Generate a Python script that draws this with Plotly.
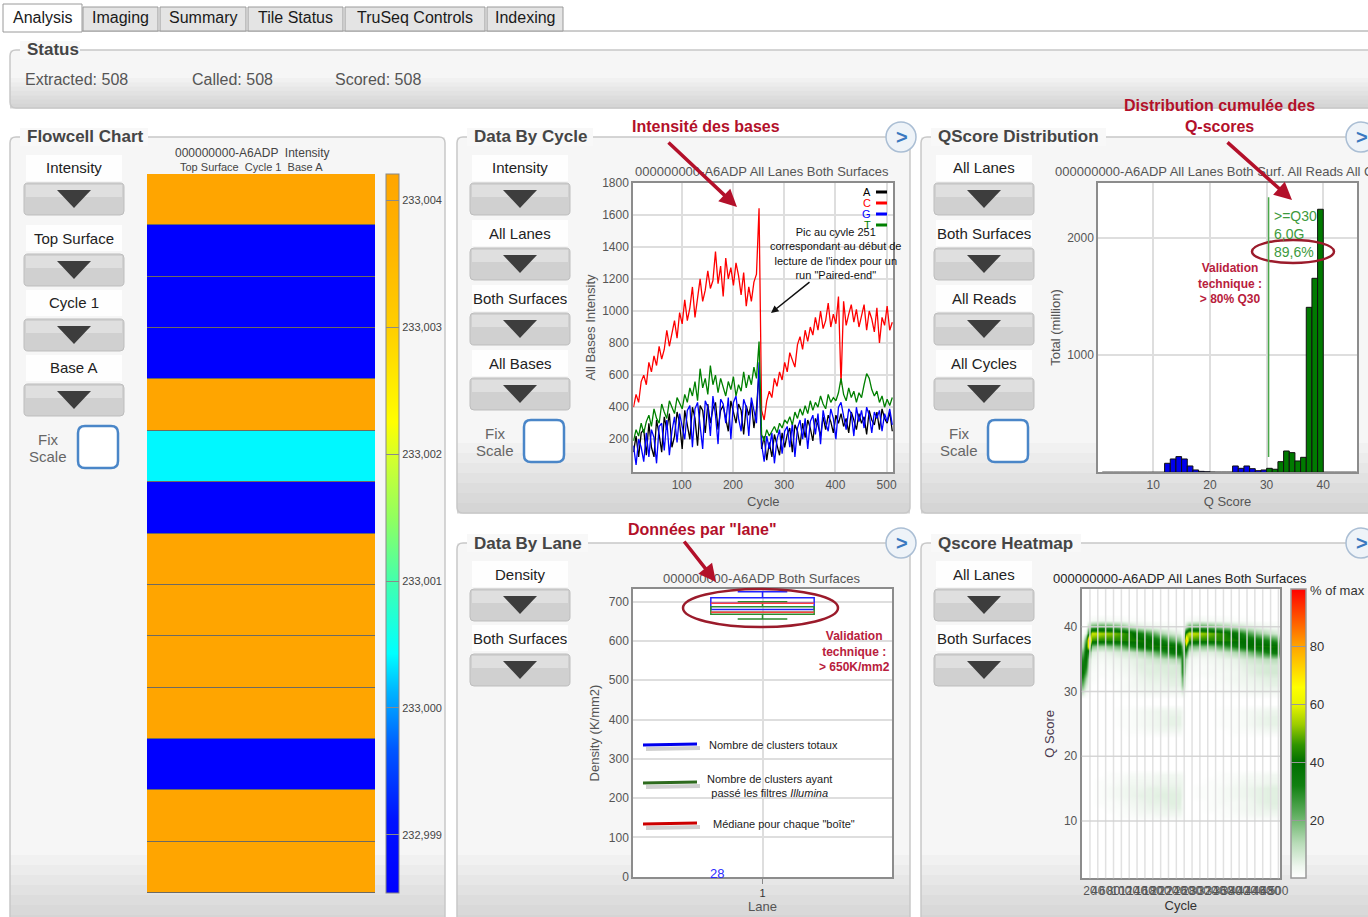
# -*- coding: utf-8 -*-
import plotly.graph_objects as go

W, H = 1368, 917
FONT = "Liberation Sans, Arial, sans-serif"

# ---------------- Données ----------------
# Flowcell chart : intensité par tuile (Top Surface, Cycle 1, Base A), de haut en bas
tile_intensity = [233.0042, 232.9985, 232.9985, 232.9985, 233.0042, 233.0004, 232.9985,
                  233.0042, 233.0042, 233.0042, 233.0042, 232.9985, 233.0042, 233.0042]
flowcell_ticks = [232.999, 233.000, 233.001, 233.002, 233.003, 233.004]
flowcell_ticktext = ["232,999", "233,000", "233,001", "233,002", "233,003", "233,004"]

# Data by cycle : intensité par base (lu toutes les 5 cycles)
cycles = list(range(6, 512, 5))
intensity_A = [120, 220, 90, 240, 260, 100, 300, 150, 90, 320, 230, 120, 340, 260, 360, 150, 220, 370, 300, 140,
               380, 280, 200, 400, 330, 160, 410, 380, 240, 420, 300, 390, 430, 260, 380, 410, 330, 250, 440, 360,
               300, 420, 380, 230, 410, 350, 430, 270, 390, 620,
               140, 220, 70, 180, 90, 230, 170, 100, 240, 150,
               230, 270, 120, 290, 250, 160, 300, 210, 320, 270, 190, 330, 290, 220, 340, 260, 350, 310, 240, 350,
               300, 360, 280, 330, 240, 370, 320, 260, 360, 300, 340, 230, 380, 320, 290, 370, 260, 390, 330, 300,
               370, 250]
intensity_C = [400, 480, 430, 560, 600, 540, 680, 620, 720, 660, 780, 700, 760, 880, 780, 850, 940, 830, 990, 920,
               1070, 940, 1020, 1150, 960, 1080, 1200, 1060, 1130, 1250, 1140, 1190, 1370, 1170, 1280, 1090, 1330, 1200, 1270, 1160,
               1300, 1220, 1100, 1240, 1030, 1150, 1060, 1180, 1230, 1640,
               380, 320, 440, 500, 460, 580, 530, 620, 570, 680,
               620, 740, 700, 650, 790, 840, 760, 880, 810, 900, 850, 960, 880, 1000, 890, 940, 1050, 900, 980, 920,
               1090, 540, 1060, 910, 980, 1040, 930, 1010, 900, 970, 1040, 880, 1000, 950, 870, 1020, 800, 960, 910, 1030,
               880, 930]
intensity_G = [160, 40, 200, 150, 60, 240, 90, 260, 210, 50, 280, 300, 130, 320, 100, 250, 340, 180, 360, 290,
               200, 380, 410, 150, 390, 430, 280, 140, 440, 400, 220, 470, 350, 170, 450, 420, 300, 460, 200, 430,
               470, 330, 250, 450, 400, 220, 460, 380, 300, 680,
               170, 60, 220, 140, 240, 50, 200, 260, 110, 250,
               280, 150, 300, 90, 270, 320, 200, 330, 140, 310, 350, 230, 360, 170, 380, 300, 250, 390, 330, 200,
               400, 430, 340, 260, 390, 360, 220, 400, 310, 380, 270, 400, 350, 240, 370, 330, 380, 250, 360, 310,
               390, 290]
intensity_T = [190, 260, 220, 300, 240, 310, 350, 280, 390, 330, 300, 420, 370, 330, 440, 400, 360, 460, 420, 390,
               480, 430, 520, 470, 560, 440, 640, 520, 580, 480, 660, 540, 600, 490, 580, 530, 470, 560, 510, 590,
               470, 540, 500, 620, 520, 600, 540, 650, 580, 810,
               230, 190, 260, 220, 250, 280, 240, 300, 270, 320,
               300, 340, 290, 370, 330, 390, 350, 410, 360, 440, 380, 430, 400, 470, 420, 390, 480, 430, 460, 440,
               490, 580, 480, 440, 520, 460, 500, 430, 490, 460, 540, 610, 580, 510, 470, 500, 430, 470, 400, 450,
               410, 460]
bases = ["A", "C", "G", "T"]
base_colors = ["#000000", "#ff0000", "#0000ff", "#008000"]

# QScore distribution (millions)
qscore_bins = list(range(1, 46))
qscore_totals = [0, 0, 0, 0, 0, 0, 0, 0, 0, 0, 0,
                 77, 114, 134, 114, 54, 20, 8, 5,
                 2, 1, 1, 1,
                 54, 34, 54, 31, 14, 20,
                 34, 26, 91, 182, 168, 97, 128, 1410, 1658, 2248,
                 0, 0, 0, 0, 0, 0]
q30_threshold = 30

# Data by lane : densité (K/mm2) -> [moustache basse, q1, médiane, q3, moustache haute]
lanes = [1]
density_total = [680, 680, 696, 710, 725]
density_pf = [656, 668, 673, 687, 700]

# Qscore heatmap (% du max)
heat_cycles = [2, 10, 17, 25, 50, 75, 100, 125, 150, 175, 200, 225, 248, 256, 264, 272, 300, 330, 360, 390, 420, 450, 480, 510]
heat_q = [41, 40, 39, 38, 37, 36, 35, 34, 33, 32, 31, 30, 27, 26, 25, 24, 17, 16, 15, 14, 13, 12, 11]
heat_z = [
    [0, 0, 1, 2, 3, 2, 2, 1, 1, 0, 0, 0, 0, 0, 1, 2, 3, 2, 2, 1, 1, 0, 0, 0],
    [0, 0, 15, 24, 28, 26, 20, 12, 7, 5, 3, 2, 1, 0, 12, 24, 26, 22, 16, 12, 8, 5, 3, 2],
    [0, 5, 35, 58, 54, 52, 48, 42, 32, 24, 14, 9, 6, 0, 45, 58, 54, 50, 44, 36, 26, 16, 10, 6],
    [5, 25, 90, 46, 44, 44, 44, 43, 42, 40, 34, 24, 18, 5, 80, 46, 44, 44, 44, 42, 40, 36, 30, 22],
    [10, 35, 70, 18, 14, 18, 22, 30, 38, 42, 42, 42, 40, 15, 50, 20, 18, 18, 26, 32, 40, 42, 42, 40],
    [20, 40, 30, 6, 4, 6, 8, 9, 13, 18, 26, 34, 40, 25, 30, 8, 6, 6, 9, 13, 18, 26, 34, 38],
    [30, 40, 12, 3, 2, 3, 4, 5, 6, 8, 10, 12, 15, 35, 12, 3, 2, 3, 4, 5, 8, 10, 12, 12],
    [35, 35, 8, 2, 1, 2, 3, 4, 6, 6, 7, 7, 8, 38, 8, 2, 1, 2, 3, 4, 6, 7, 8, 8],
    [38, 25, 5, 1, 1, 1, 2, 3, 5, 6, 6, 7, 7, 35, 5, 1, 1, 2, 2, 3, 5, 7, 8, 8],
    [30, 15, 3, 1, 0, 1, 1, 2, 4, 5, 5, 6, 6, 25, 3, 1, 0, 1, 2, 3, 4, 5, 6, 6],
    [20, 8, 2, 0, 0, 0, 1, 2, 3, 4, 4, 5, 5, 18, 2, 0, 0, 1, 1, 2, 3, 4, 5, 5],
    [10, 3, 1, 0, 0, 0, 1, 1, 2, 3, 3, 3, 3, 8, 1, 0, 0, 0, 1, 1, 2, 3, 3, 3],
    [0, 0, 0, 0, 0, 0, 1, 1, 2, 3, 4, 4, 4, 2, 0, 0, 0, 0, 1, 1, 2, 3, 4, 4],
    [0, 0, 0, 0, 0, 0, 1, 1, 2, 3, 4, 5, 5, 2, 0, 0, 0, 0, 1, 1, 2, 4, 5, 5],
    [0, 0, 0, 0, 0, 0, 1, 1, 2, 3, 4, 5, 5, 2, 0, 0, 0, 0, 1, 1, 2, 4, 5, 5],
    [0, 0, 0, 0, 0, 0, 0, 1, 1, 2, 3, 3, 3, 1, 0, 0, 0, 0, 0, 1, 1, 2, 3, 3],
    [0, 0, 0, 0, 0, 1, 1, 2, 2, 2, 3, 3, 3, 2, 0, 0, 0, 0, 1, 1, 2, 2, 3, 3],
    [0, 0, 0, 0, 1, 1, 2, 3, 3, 3, 4, 4, 4, 3, 0, 0, 0, 1, 1, 2, 3, 3, 4, 4],
    [0, 0, 0, 0, 1, 2, 3, 4, 4, 5, 5, 5, 5, 3, 0, 0, 1, 1, 2, 3, 4, 5, 6, 6],
    [0, 0, 0, 0, 1, 2, 3, 4, 5, 5, 6, 6, 6, 3, 0, 0, 1, 1, 2, 3, 4, 5, 6, 6],
    [0, 0, 0, 0, 1, 1, 2, 3, 4, 5, 5, 6, 6, 2, 0, 0, 0, 1, 2, 2, 3, 5, 6, 6],
    [0, 0, 0, 0, 0, 1, 1, 2, 3, 4, 4, 5, 5, 2, 0, 0, 0, 1, 1, 2, 3, 4, 5, 5],
    [0, 0, 0, 0, 0, 0, 1, 1, 2, 2, 3, 3, 3, 1, 0, 0, 0, 0, 1, 1, 2, 3, 3, 3],
]
heat_cycle_ticks = [20, 40, 60, 80, 100, 120, 140, 160, 180, 200, 220, 240, 260, 280, 300,
                    320, 340, 360, 380, 400, 420, 440, 460, 480, 500]

# ---------------- Helpers (pixels -> paper) ----------------
shapes, annotations = [], []


def X(x):
    return x / W


def Y(y):
    return 1 - y / H


def rect(x0, y0, x1, y1, fill, line=None, width=1, layer="below"):
    shapes.append(dict(type="rect", xref="paper", yref="paper", x0=X(x0), y0=Y(y1), x1=X(x1), y1=Y(y0),
                       fillcolor=fill, layer=layer,
                       line=dict(color=line or "rgba(0,0,0,0)", width=width if line else 0)))


def rrect(x0, y0, x1, y1, r, fill, line=None, width=1, layer="below"):
    def p(x, y):
        return f"{X(x):.5f},{Y(y):.5f}"
    path = (f"M{p(x0 + r, y0)} L{p(x1 - r, y0)} Q{p(x1, y0)} {p(x1, y0 + r)} L{p(x1, y1 - r)} "
            f"Q{p(x1, y1)} {p(x1 - r, y1)} L{p(x0 + r, y1)} Q{p(x0, y1)} {p(x0, y1 - r)} "
            f"L{p(x0, y0 + r)} Q{p(x0, y0)} {p(x0 + r, y0)} Z")
    shapes.append(dict(type="path", xref="paper", yref="paper", path=path, fillcolor=fill, layer=layer,
                       line=dict(color=line or "rgba(0,0,0,0)", width=width if line else 0)))


def seg(x0, y0, x1, y1, color, width=1, layer="above"):
    shapes.append(dict(type="line", xref="paper", yref="paper", x0=X(x0), y0=Y(y0), x1=X(x1), y1=Y(y1),
                       line=dict(color=color, width=width), layer=layer))


def ellipse(x0, y0, x1, y1, color, width=2):
    shapes.append(dict(type="circle", xref="paper", yref="paper", x0=X(x0), y0=Y(y1), x1=X(x1), y1=Y(y0),
                       line=dict(color=color, width=width), fillcolor="rgba(0,0,0,0)", layer="above"))


def text(x, y, s, size=14, color="#333", bold=False, xanchor="center", yanchor="middle", align="center"):
    if bold:
        s = f"<b>{s}</b>"
    annotations.append(dict(x=X(x), y=Y(y), xref="paper", yref="paper", text=s, showarrow=False,
                            xanchor=xanchor, yanchor=yanchor, align=align,
                            font=dict(size=size, color=color, family=FONT)))


def arrow(xt, yt, xh, yh, color, width=3):
    annotations.append(dict(x=X(xh), y=Y(yh), xref="paper", yref="paper", ax=xt - xh, ay=yt - yh,
                            axref="pixel", ayref="pixel", text="", showarrow=True, arrowhead=2,
                            arrowsize=1, arrowwidth=width, arrowcolor=color))


def panel(x0, y0, x1, y1, title, title_w, band=70):
    steps = ["#f1f1f1", "#ececec", "#e7e7e7", "#e2e2e2", "#dddddd", "#d9d9d9", "#d5d5d5"]
    rect(x0, y0, x1, y1 - band, "#f6f6f6")
    bh = band / len(steps)
    for i, c in enumerate(steps):
        rect(x0, y1 - band + i * bh, x1, y1 - band + (i + 1) * bh + 0.5, c)
    rrect(x0, y0, x1, y1, 6, "rgba(0,0,0,0)", "#c8c8c8", 1.5)
    rect(x0 + 10, y0 - 9, x0 + 18 + title_w, y0 + 9, "#f8f8f8")
    text(x0 + 15, y0, title, size=17, color="#454545", bold=True, xanchor="left")


def dropdown(cx, label, label_y, top):
    rect(cx - 48, label_y - 13, cx + 48, label_y + 13, "rgba(255,255,255,0.85)")
    text(cx, label_y, label, size=15, color="#222")
    rrect(cx - 50, top, cx + 50, top + 32, 4, "#d0d0d0", "#bdbdbd", 1)
    rect(cx - 48, top + 2, cx + 48, top + 14, "#dfdfdf")
    p = lambda x, y: f"{X(x):.5f},{Y(y):.5f}"
    shapes.append(dict(type="path", xref="paper", yref="paper", layer="below", fillcolor="#3d3d3d",
                       line=dict(width=0), path=f"M{p(cx - 17, top + 7)} L{p(cx + 17, top + 7)} L{p(cx, top + 25)} Z"))


def fix_scale(tx, bx0, by0):
    text(tx, by0 + 13, "Fix", size=15, color="#666")
    text(tx, by0 + 30, "Scale", size=15, color="#666")
    rrect(bx0, by0, bx0 + 40, by0 + 42, 7, "#ffffff", "#4a86c8", 2.5)


def next_button(cx, cy):
    shapes.append(dict(type="circle", xref="paper", yref="paper", x0=X(cx - 15), x1=X(cx + 15),
                       y0=Y(cy + 15), y1=Y(cy - 15), fillcolor="#eef3f8", line=dict(color="#aabed4", width=1.5),
                       layer="below"))
    text(cx + 1, cy, "&gt;", size=20, color="#3a78c0", bold=True)


# ---------------- Interface (onglets, panneaux) ----------------
tabs = [("Analysis", 3, 82), ("Imaging", 83, 158), ("Summary", 160, 246), ("Tile Status", 248, 343),
        ("TruSeq Controls", 345, 485), ("Indexing", 487, 563)]
seg(82, 31, 1368, 31, "#9a9a9a", 1, layer="below")
for i, (name, a, b) in enumerate(tabs):
    if i == 0:
        rect(a, 4, b, 32, "#ffffff", "#9a9a9a", 1)
    else:
        rect(a, 7, b, 31, "#e4e4e4", "#9a9a9a", 1)
    text((a + b) / 2, 18, name, size=16, color="#1a1a1a")

panel(10, 50, 1385, 108, "Status", 52, band=30)
text(23, 80, "Extracted: 508", size=16, color="#555", xanchor="left")
text(190, 80, "Called: 508", size=16, color="#555", xanchor="left")
text(333, 80, "Scored: 508", size=16, color="#555", xanchor="left")

panel(10, 137, 445, 925, "Flowcell Chart", 120)
panel(457, 137, 910, 513, "Data By Cycle", 118)
panel(921, 137, 1385, 513, "QScore Distribution", 167)
panel(457, 543, 910, 925, "Data By Lane", 113)
panel(921, 543, 1385, 925, "Qscore Heatmap", 142)
for cx, cy in [(901, 137), (1361, 137), (901, 543), (1361, 543)]:
    next_button(cx, cy)

for lab, ly, top in [("Intensity", 168, 183), ("Top Surface", 238, 254), ("Cycle 1", 303, 319), ("Base A", 368, 384)]:
    dropdown(74, lab, ly, top)
fix_scale(48, 78, 426)
for lab, ly, top in [("Intensity", 168, 183), ("All Lanes", 233, 248), ("Both Surfaces", 298, 313), ("All Bases", 363, 378)]:
    dropdown(520, lab, ly, top)
fix_scale(495, 524, 420)
for lab, ly, top in [("All Lanes", 168, 183), ("Both Surfaces", 233, 248), ("All Reads", 298, 313), ("All Cycles", 363, 378)]:
    dropdown(984, lab, ly, top)
fix_scale(959, 988, 420)
for lab, ly, top in [("Density", 574, 589), ("Both Surfaces", 638, 654)]:
    dropdown(520, lab, ly, top)
for lab, ly, top in [("All Lanes", 574, 589), ("Both Surfaces", 638, 654)]:
    dropdown(984, lab, ly, top)

# fonds des zones de tracé
rect(147, 174, 375, 893, "#6e6a62")
rect(633, 183, 893, 472, "#ffffff")
rect(1098, 183, 1357, 472, "#ffffff")
rect(633, 589, 892, 877, "#ffffff")
rect(1082, 589, 1280, 878, "#ffffff")

# titres des graphiques
text(252, 153, "000000000-A6ADP  Intensity", size=12, color="#444")
text(251, 167, "Top Surface  Cycle 1  Base A", size=11, color="#444")
text(762, 171, "000000000-A6ADP All Lanes Both Surfaces", size=13, color="#555")
text(1053, 171, "000000000-A6ADP All Lanes Both Surf. All Reads All Cycles", size=13, color="#555", xanchor="left")
text(762, 578, "000000000-A6ADP Both Surfaces", size=13, color="#555")
text(1180, 578, "000000000-A6ADP All Lanes Both Surfaces", size=13, color="#222")
text(1308, 590, "% of max", size=13, color="#333", xanchor="left")

# légende Data By Cycle
for i, (b, c) in enumerate(zip(bases, base_colors)):
    yy = 192 + i * 11
    text(873, yy, b, size=11, color=c, xanchor="right")
    seg(876, yy, 887, yy, c, 3)

# annotations en rouge (commentaires)
RED = "#b3102a"
text(706, 126, "Intensité des bases", size=16, color=RED, bold=True)
arrow(667, 141, 737, 207, RED, 3.5)
text(1219, 116, "Distribution cumulée des<br>Q-scores", size=16, color=RED, bold=True)
arrow(1226, 141, 1292, 200, RED, 3.5)
text(702, 529, "Données par \"lane\"", size=16, color=RED, bold=True)
arrow(683, 540, 716, 582, RED, 3.5)
text(1230, 283, "Validation<br>technique :<br>&gt; 80% Q30", size=12, color="#b8203c", bold=True)
text(854, 651, "Validation<br>technique :<br>&gt; 650K/mm2", size=12, color="#b8203c", bold=True)
ellipse(1252, 240, 1334, 263, "#9b1b2b", 2.5)
ellipse(683, 589, 838, 627, "#9b1b2b", 2.5)

# pic cycle 251
text(836, 253, "Pic au cyvle 251<br>correspondant au début de<br>lecture de l'index pour un<br>run \"Paired-end\"",
     size=11, color="#111")
arrow(811, 281, 771, 313, "#111", 1.5)

# >=Q30
text(1272, 234, ">=Q30<br>6,0G<br>89,6%", size=14, color="#3d9a3d", xanchor="left", align="left")

# légende Data By Lane
for yy, col, lab, lx in [(745, "#0000ee", "Nombre de clusters totaux", 707),
                         (783, "#2e6b1e", "Nombre de clusters ayant<br>passé les filtres <i>Illumina</i>", 705),
                         (824, "#cc0000", "Médiane pour chaque \"boîte\"", 711)]:
    seg(646, yy + 4, 700, yy + 3, "rgba(120,120,120,0.35)", 4)
    seg(643, yy, 697, yy - 1, col, 3)
    text(lx, yy + (3 if "<br>" in lab else 0), lab, size=11, color="#222", xanchor="left", align="center")
text(717, 873, "28", size=13, color="#2a2aff")

# ---------------- Figure ----------------
fig = go.Figure()

flow_cs = [[0.0, "#0000ff"], [0.1, "#0012ff"], [0.2, "#0058ff"], [0.28, "#00b4ff"], [0.333, "#00ffff"],
           [0.43, "#40ffb0"], [0.52, "#90ff60"], [0.6, "#d0ff30"], [0.655, "#ffff00"], [0.78, "#ffd000"],
           [0.9, "#ffb400"], [1.0, "#ffa500"]]
fig.add_trace(go.Heatmap(
    z=[[v] for v in tile_intensity], x=[0], y=list(range(len(tile_intensity))),
    colorscale=flow_cs, zmin=232.99854, zmax=233.00421, ygap=1, xaxis="x", yaxis="y",
    colorbar=dict(x=X(386), xanchor="left", y=Y(174), yanchor="top", len=719, lenmode="pixels",
                  thickness=13, xpad=0, ypad=0, outlinecolor="#888", outlinewidth=1,
                  tickvals=flowcell_ticks, ticktext=flowcell_ticktext, ticks="inside", ticklen=13,
                  tickcolor="#8a8a8a", tickfont=dict(size=11, color="#444", family=FONT))))

for b, c, vals in zip(bases, base_colors, [intensity_A, intensity_C, intensity_G, intensity_T]):
    fig.add_trace(go.Scatter(x=cycles, y=vals, mode="lines", name=b, line=dict(color=c, width=1.3),
                             xaxis="x2", yaxis="y2"))

fig.add_trace(go.Bar(
    x=qscore_bins, y=qscore_totals, offset=0, width=1, xaxis="x3", yaxis="y3",
    marker=dict(color=["#0000ee" if q < q30_threshold else "#007a00" for q in qscore_bins],
                line=dict(color="#111", width=1))))
shapes.append(dict(type="line", xref="x3", yref="y3", x0=q30_threshold + 0.35, x1=q30_threshold + 0.35,
                   y0=130, y1=2350, line=dict(color="#4aa84a", width=1.5), layer="above"))

for vals, col in [(density_total, "#2222ff"), (density_pf, "#2e8b2e")]:
    fig.add_trace(go.Box(x=lanes, lowerfence=[vals[0]], q1=[vals[1]], median=[vals[2]], q3=[vals[3]],
                         upperfence=[vals[4]], width=0.8, whiskerwidth=0.48, boxpoints=False,
                         line=dict(color=col, width=1.5), fillcolor="rgba(0,0,0,0)", xaxis="x4", yaxis="y4"))
for vals in [density_total, density_pf]:
    fig.add_trace(go.Scatter(x=[lanes[0] - 0.4, lanes[0] + 0.4], y=[vals[2], vals[2]], mode="lines",
                             line=dict(color="#ff4040", width=1.5), xaxis="x4", yaxis="y4"))

q_axis = list(range(1, 46))
z_full = [[0] * len(heat_cycles) for _ in q_axis]
for q, row in zip(heat_q, heat_z):
    z_full[q - 1] = row
qs_cs = [[0.0, "#ffffff"], [0.04, "#eef6ee"], [0.12, "#b8dcb8"], [0.22, "#5fae5f"], [0.32, "#118011"],
         [0.4, "#006e00"], [0.46, "#2f9400"], [0.53, "#9ccc00"], [0.6, "#e8f400"], [0.66, "#ffff00"],
         [0.8, "#ffa500"], [1.0, "#ff0000"]]
fig.add_trace(go.Heatmap(
    x=heat_cycles, y=q_axis, z=z_full, colorscale=qs_cs, zmin=0, zmax=100, zsmooth="best",
    xaxis="x5", yaxis="y5",
    colorbar=dict(x=X(1291), xanchor="left", y=Y(589), yanchor="top", len=289, lenmode="pixels",
                  thickness=15, xpad=0, ypad=0, outlinecolor="#999", outlinewidth=1.5,
                  tickvals=[20, 40, 60, 80], ticks="inside", ticklen=15, tickcolor="#999",
                  tickfont=dict(size=13, color="#333", family=FONT))))
for t in heat_cycle_ticks:
    shapes.append(dict(type="line", xref="x5", yref="y5 domain", x0=t, x1=t, y0=0, y1=1,
                       line=dict(color="rgba(222,222,222,0.9)", width=1.5), layer="above"))
for t in [10, 20, 30, 40]:
    shapes.append(dict(type="line", xref="x5 domain", yref="y5", x0=0, x1=1, y0=t, y1=t,
                       line=dict(color="rgba(210,210,210,0.9)", width=1.5), layer="above"))


def ax(**kw):
    d = dict(showline=True, mirror=True, linecolor="#8c8c8c", linewidth=2, gridcolor="#dedede", gridwidth=1.5,
             zeroline=False, ticks="", tickfont=dict(size=12, color="#555", family=FONT),
             title_font=dict(size=13, color="#555", family=FONT))
    d.update(kw)
    return d


fig.update_layout(
    width=W, height=H, margin=dict(l=0, r=0, t=0, b=0, autoexpand=False),
    paper_bgcolor="#ffffff", plot_bgcolor="rgba(0,0,0,0)",
    showlegend=False, separators=",.", font=dict(family=FONT),
    barmode="overlay", boxmode="overlay",
    xaxis=dict(domain=[X(147), X(375)], visible=False, anchor="y"),
    yaxis=dict(domain=[Y(893), Y(174)], visible=False, autorange="reversed", anchor="x"),
    xaxis2=ax(domain=[X(633.3), X(893.3)], range=[5.6, 513], tickvals=[100, 200, 300, 400, 500],
              title=dict(text="Cycle", standoff=6), anchor="y2"),
    yaxis2=ax(domain=[Y(472.3), Y(182.7)], range=[-6, 1800],
              tickvals=[200, 400, 600, 800, 1000, 1200, 1400, 1600, 1800],
              title=dict(text="All Bases Intensity", standoff=4), anchor="x2"),
    xaxis3=ax(domain=[X(1098.3), X(1356.7)], range=[0.3, 45.9], tickvals=[10, 20, 30, 40],
              title=dict(text="Q Score", standoff=6), anchor="y3"),
    yaxis3=ax(domain=[Y(472.3), Y(182.7)], range=[0, 2475], tickvals=[1000, 2000],
              title=dict(text="Total (million)", standoff=4), anchor="x3"),
    xaxis4=ax(domain=[X(633.3), X(891.7)], range=[0, 2], tickvals=[1], ticks="outside", ticklen=5,
              tickcolor="#888", tickfont=dict(size=11, color="#333", family=FONT),
              title=dict(text="Lane", standoff=4), anchor="y4"),
    yaxis4=ax(domain=[Y(876.7), Y(589.3)], range=[0, 731.5], tickvals=[0, 100, 200, 300, 400, 500, 600, 700],
              title=dict(text="Density (K/mm2)", standoff=6), anchor="x4"),
    xaxis5=ax(domain=[X(1081.7), X(1280)], range=[-1, 504], tickvals=heat_cycle_ticks, tickangle=0,
              showgrid=False, tickfont=dict(size=12, color="#555", family=FONT),
              title=dict(text="Cycle", standoff=4, font=dict(size=13, color="#333", family=FONT)), anchor="y5"),
    yaxis5=ax(domain=[Y(878.3), Y(589.3)], range=[1.15, 45.8], tickvals=[10, 20, 30, 40], showgrid=False,
              title=dict(text="Q Score", standoff=6, font=dict(size=13, color="#4b3a4f", family=FONT)),
              anchor="x5"),
    shapes=shapes, annotations=annotations,
)

# la page HTML par défaut a une marge de 8 px : on la supprime pour caler la figure sur la fenêtre
fig.write_html("out.html", config={"displayModeBar": False},
               post_script="document.body.style.margin='0';document.body.style.overflow='hidden';")
